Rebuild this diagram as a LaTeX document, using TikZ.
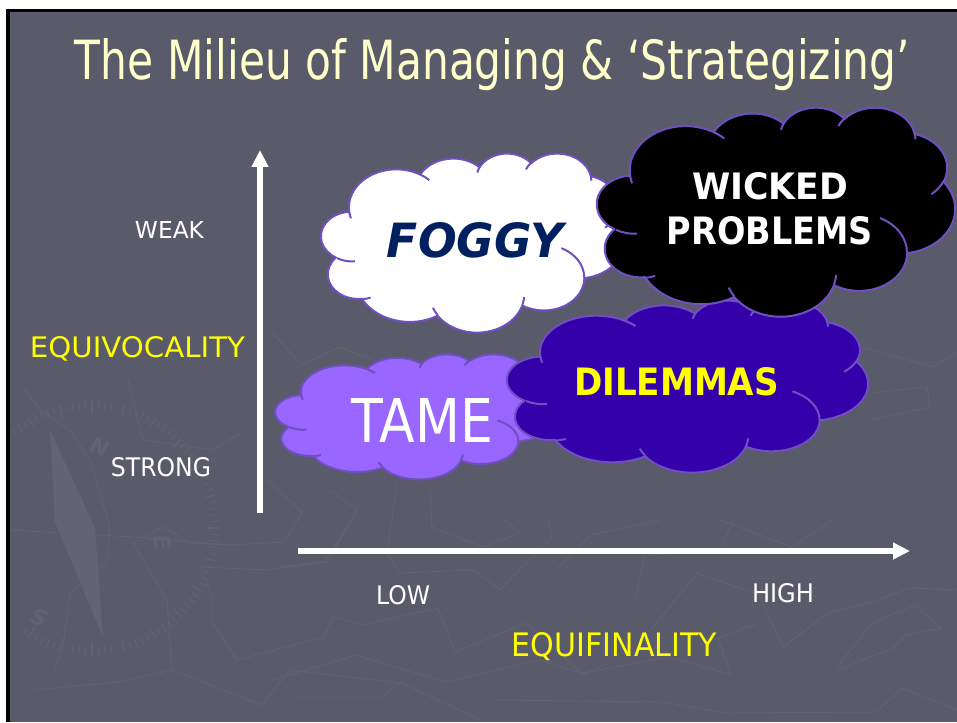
\documentclass[tikz,border=0pt]{standalone}
\usepackage{fontspec}
\setmainfont{DejaVu Sans}
\usepackage{graphicx}
\usetikzlibrary{arrows.meta}

\definecolor{slidebg}{RGB}{89,90,106}
\definecolor{texcol}{RGB}{98,99,114}
\definecolor{needlecol}{RGB}{99,100,115}
\definecolor{titlecol}{RGB}{255,255,204}
\definecolor{cloudedge}{RGB}{112,80,192}
\definecolor{tamefill}{RGB}{153,102,255}
\definecolor{dilfill}{RGB}{51,0,170}
\definecolor{foggytext}{RGB}{0,32,96}
\definecolor{hiyellow}{RGB}{255,255,0}

% visual (elliptic) angle -> parametric angle on an ellipse with radii #3, #4
\newcommand\ooangle[4]{%
  \pgfmathsetmacro\ootmp{atan2((#3)*sin(#2),(#4)*cos(#2))}%
  \pgfmathsetmacro#1{\ootmp+360*round(((#2)-\ootmp)/360)}}

% outline arcs of the cloud
\ooangle\oAs{-190.4875}{6.753}{9.190}\ooangle\oAe{-66.7070}{6.753}{9.190}
\ooangle\oBs{-144.1024}{5.333}{7.267}\ooangle\oBe{-54.1572}{5.333}{7.267}
\ooangle\oCs{-145.8079}{4.365}{5.945}\ooangle\oCe{-46.0849}{4.365}{5.945}
\ooangle\oDs{-130.9861}{4.857}{6.595}\ooangle\oDe{-13.7444}{4.857}{6.595}
\ooangle\oEs{-78.7089}{5.333}{7.273}\ooangle\oEe{30.3180}{5.333}{7.273}
\ooangle\oFs{-46.2673}{6.775}{9.220}\ooangle\oFe{84.0017}{6.775}{9.220}
\ooangle\oGs{0.6250}{5.785}{7.867}\ooangle\oGe{114.6583}{5.785}{7.867}
\ooangle\oHs{22.4516}{6.752}{9.215}\ooangle\oHe{137.6242}{6.752}{9.215}
\ooangle\oIs{66.2426}{7.720}{10.543}\ooangle\oIe{144.0671}{7.720}{10.543}
\ooangle\oJs{-274.9421}{4.360}{5.918}\ooangle\oJe{-128.2065}{4.360}{5.918}
\ooangle\oKs{-246.8285}{4.345}{5.945}\ooangle\oKe{-94.3096}{4.345}{5.945}
% inner creases of the cloud
\ooangle\iAs{86.7420}{4.345}{5.945}\ooangle\iAe{113.1715}{4.345}{5.945}
\ooangle\iBs{73.6105}{4.360}{5.918}\ooangle\iBe{85.0580}{4.360}{5.918}
\ooangle\iCs{137.6242}{6.752}{9.215}\ooangle\iCe{151.7053}{6.752}{9.215}
\ooangle\iDs{6.4533}{6.752}{9.215}\ooangle\iDe{22.4517}{6.752}{9.215}
\ooangle\iEs{-70.2924}{5.785}{7.867}\ooangle\iEe{0.6250}{5.785}{7.867}
\ooangle\iFs{30.3180}{5.333}{7.273}\ooangle\iFe{58.0695}{5.333}{7.273}
\ooangle\iGs{-13.7443}{4.857}{6.595}\ooangle\iGe{1.1146}{4.857}{6.595}
\ooangle\iHs{-149.1815}{4.857}{6.595}\ooangle\iHe{-130.9861}{4.857}{6.595}
\ooangle\iIs{-163.4943}{4.365}{5.945}\ooangle\iIe{-145.8079}{4.365}{5.945}
\ooangle\iJs{-66.7070}{6.753}{9.190}\ooangle\iJe{-54.3876}{6.753}{9.190}
\ooangle\iKs{157.6544}{6.753}{9.190}\ooangle\iKe{169.5126}{6.753}{9.190}

\tikzset{
  cloudrim/.style={draw=cloudedge, line width=2pt, line join=round},
  lbl/.style={inner sep=0pt, anchor=base},
  axisarrow/.style={draw=white, line width=6.5pt,
    -{Triangle[length=17pt,width=16pt]}},
  mapline/.style={draw=texcol, line width=0.9pt, line join=round},
  compasstick/.style={draw=texcol, line width=1.1pt},
  compassletter/.style={text=texcol, font=\bfseries\itshape\fontsize{22}{24}\selectfont},
}

% cloud in the box with top-left corner (#1,#2), width #3, height #4, fill #5
\newcommand\cloudshape[5]{%
\begin{scope}[shift={(#1,#2)},xscale=#3/43.2,yscale=#4/43.2]
\filldraw[cloudrim, fill=#5] (3.900,14.370)
  arc[x radius=6.753,y radius=9.190,start angle=\oAs,end angle=\oAe]
  arc[x radius=5.333,y radius=7.267,start angle=\oBs,end angle=\oBe]
  arc[x radius=4.365,y radius=5.945,start angle=\oCs,end angle=\oCe]
  arc[x radius=4.857,y radius=6.595,start angle=\oDs,end angle=\oDe]
  arc[x radius=5.333,y radius=7.273,start angle=\oEs,end angle=\oEe]
  arc[x radius=6.775,y radius=9.220,start angle=\oFs,end angle=\oFe]
  arc[x radius=5.785,y radius=7.867,start angle=\oGs,end angle=\oGe]
  arc[x radius=6.752,y radius=9.215,start angle=\oHs,end angle=\oHe]
  arc[x radius=7.720,y radius=10.543,start angle=\oIs,end angle=\oIe]
  arc[x radius=4.360,y radius=5.918,start angle=\oJs,end angle=\oJe]
  arc[x radius=4.345,y radius=5.945,start angle=\oKs,end angle=\oKe]
  -- cycle;
\draw[cloudrim]
  (4.693,26.177) arc[x radius=4.345,y radius=5.945,start angle=\iAs,end angle=\iAe]
  (6.928,34.899) arc[x radius=4.360,y radius=5.918,start angle=\iBs,end angle=\iBe]
  (16.478,39.090) arc[x radius=6.752,y radius=9.215,start angle=\iCs,end angle=\iCe]
  (28.827,34.751) arc[x radius=6.752,y radius=9.215,start angle=\iDs,end angle=\iDe]
  (34.129,22.954) arc[x radius=5.785,y radius=7.867,start angle=\iEs,end angle=\iEe]
  (41.798,15.354) arc[x radius=5.333,y radius=7.273,start angle=\iFs,end angle=\iFe]
  (38.324,5.426) arc[x radius=4.857,y radius=6.595,start angle=\iGs,end angle=\iGe]
  (29.078,3.952) arc[x radius=4.857,y radius=6.595,start angle=\iHs,end angle=\iHe]
  (22.141,4.720) arc[x radius=4.365,y radius=5.945,start angle=\iIs,end angle=\iIe]
  (14.000,5.192) arc[x radius=6.753,y radius=9.190,start angle=\iJs,end angle=\iJe]
  (4.127,15.789) arc[x radius=6.753,y radius=9.190,start angle=\iKs,end angle=\iKe];
\end{scope}}

% label squeezed to width #1 and cap height #2
\newcommand\fitlabel[3]{\resizebox{#1pt}{#2pt}{#3}}

\begin{document}
\begin{tikzpicture}[x=1pt,y=-1pt]
\useasboundingbox (0,0) rectangle (957,722);
% slide frame and background
\fill[white] (0,0) rectangle (957,722);
\fill[black] (6,9) rectangle (957,722);
\fill[slidebg] (9.5,12) rectangle (957,722);

% faint map texture
\begin{scope}
\clip (9.5,12) rectangle (957,722);
\draw[mapline] (10,530) -- (97,535) -- (133,537) -- (230,545);
\draw[mapline] (133,543) -- (163,527) -- (190,543) -- (230,545) -- (285,542) -- (302,512) -- (265,478);
\draw[mapline] (133,543) -- (167,600) -- (172,670) -- (262,705) -- (290,670) -- (400,683);
\draw[mapline] (200,567) -- (213,600) -- (213,623) -- (237,660) -- (323,637) -- (334,617)
  -- (362,625) -- (438,608) -- (455,652) -- (526,623) -- (584,675) -- (608,663);
\draw[mapline] (33,690) -- (118,682) -- (172,670);
\draw[mapline] (273,680) -- (356,655) -- (446,682) -- (539,660) -- (582,673) -- (669,657);
\draw[mapline] (293,697) -- (383,697) -- (400,682) -- (480,720);
\draw[mapline] (492,700) -- (664,702) -- (725,713) -- (876,712) -- (902,688) -- (957,710);
\draw[mapline] (330,490) -- (357,510) -- (328,562) -- (267,570) -- (200,567);
\draw[mapline] (397,483) -- (387,553) -- (400,573) -- (474,570) -- (500,590) -- (552,537) -- (548,520);
\draw[mapline] (430,490) -- (432,527) -- (483,547) -- (520,533) -- (505,520);
\draw[mapline] (23,387) -- (40,410) -- (70,430) -- (90,460) -- (110,527) -- (107,563)
  -- (70,593) -- (63,647) -- (53,673);
\draw[mapline] (128,380) -- (137,417) -- (143,440) -- (213,450) -- (240,433);
\draw[mapline] (280,567) -- (325,562) -- (351,520);
\draw[mapline] (634,605) -- (645,555) -- (720,552) -- (733,520);
\draw[mapline] (556,570) -- (591,535) -- (660,520);
\draw[mapline] (651,630) -- (697,573) -- (759,595) -- (783,647) -- (828,613) -- (872,602)
  -- (910,588) -- (957,590);
\draw[mapline] (712,640) -- (759,623);
\draw[mapline] (673,658) -- (731,675) -- (718,638);
\draw[mapline] (837,667) -- (872,623) -- (915,605) -- (941,628) -- (906,635) -- (893,648) -- (837,670);
\draw[mapline] (720,520) -- (792,547) -- (833,520);
\draw[mapline] (270,330) -- (302,365) -- (340,347) -- (380,363);
\draw[mapline] (862,347) -- (933,367) -- (957,353);
\draw[mapline] (870,393) -- (927,387) -- (930,407) -- (870,420);

% compass rose: needle, tick ring and letters
\fill[needlecol] (50,430) -- (95,528) -- (103,637) -- (55,522) -- cycle;
\fill[texcol] (76,525) circle (12);
\begin{scope}[shift={(92,528)}]
  \foreach \a in {-129,-126,...,123} \draw[compasstick] (\a:119) -- (\a:127);
  \foreach \a in {-120,-105,...,120} \draw[compasstick] (\a:114) -- (\a:127);
\end{scope}
\node[compassletter, rotate=-20] (compassn) at (100,447) {N};
\node[compassletter, rotate=-20] (compasss) at (40,618) {S};
\node[compassletter, rotate=-80] (compasse) at (163,543) {E};
\end{scope}

% title
\node[lbl, text=titlecol] (title) at (492.5,80)
  {\resizebox{835pt}{\height}{\fontsize{54}{60}\selectfont The Milieu of Managing \& ‘Strategizing’}};

% axes
\coordinate (vbot) at (260,512.5);
\coordinate (vtop) at (260,150);
\draw[axisarrow] (vbot) -- (vtop);
\coordinate (hleft) at (298,551);
\coordinate (hright) at (910,551);
\draw[axisarrow] (hleft) -- (hright);

% axis labels
\node[lbl, text=white] (weak) at (169.5,238.5) {\fitlabel{69}{17}{WEAK}};
\node[lbl, text=hiyellow] (equivocality) at (137.5,357.5) {\fitlabel{215}{21}{EQUIVOCALITY}};
\node[lbl, text=white] (strong) at (161,476) {\fitlabel{100}{19}{STRONG}};
\node[lbl, text=white] (low) at (403,604) {\fitlabel{54}{19}{LOW}};
\node[lbl, text=white] (high) at (783,602) {\fitlabel{62}{19}{HIGH}};
\node[lbl, text=hiyellow] (equifinality) at (614.5,656) {\fitlabel{205}{24}{EQUIFINALITY}};

% clouds, back to front
\cloudshape{276}{354}{280}{125}{tamefill}
\cloudshape{508}{300}{360}{172}{dilfill}
\cloudshape{322}{153}{303}{179}{white}
\cloudshape{598}{107}{357}{209}{black}

% cloud captions
\node[lbl, text=white] (tame) at (422.5,442) {\fitlabel{141}{44}{TAME}};
\node[lbl, text=hiyellow] (dilemmas) at (676.5,395) {\fitlabel{205}{28}{\bfseries DILEMMAS}};
\node[lbl, text=foggytext] (foggy) at (475,257) {\fitlabel{176}{35}{\bfseries\itshape FOGGY}};
\node[lbl, text=white] (wicked) at (770,199) {\fitlabel{156}{27}{\bfseries WICKED}};
\node[lbl, text=white] (problems) at (770,244) {\fitlabel{206}{28}{\bfseries PROBLEMS}};
\end{tikzpicture}
\end{document}
